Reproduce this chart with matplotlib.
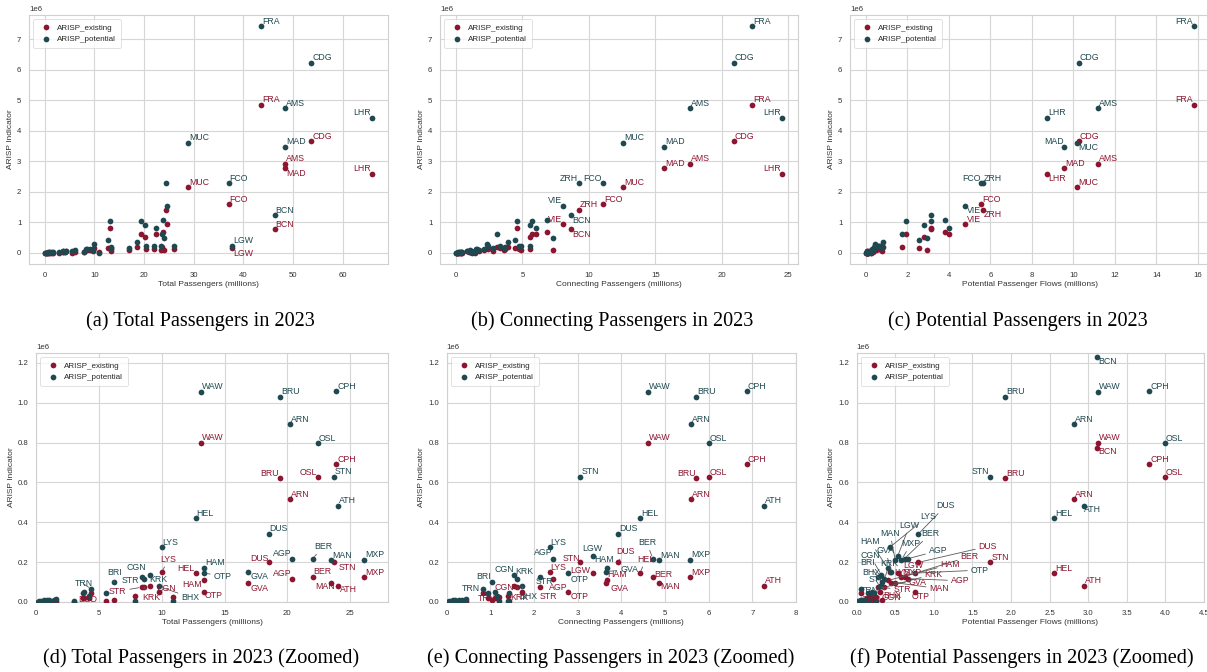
import numpy as np
import matplotlib.pyplot as plt
import seaborn as sns

# airport traffic (millions of passengers) and ARISP indicator values
airports = ['FRA', 'CDG', 'AMS', 'LHR', 'MUC', 'MAD', 'FCO', 'ZRH', 'VIE', 'BCN', 'LGW',
            'WAW', 'BRU', 'CPH', 'ARN', 'OSL', 'STN', 'ATH', 'HEL', 'DUS', 'LYS', 'AGP',
            'BER', 'MAN', 'MXP', 'HAM', 'GVA', 'OTP', 'CGN', 'STR', 'KRK', 'BRI', 'BHX',
            'TRN', 'BOD', 'BRE', 'DRS', 'LEJ', 'NUE', 'SCN', 'DTM', 'SZG', 'FMO', 'INN',
            'GRZ', 'PAD', 'LNZ', 'KLU', 'ERF']
total_pax = [43.5, 53.6, 48.3, 65.8, 28.9, 48.4, 37.0, 24.4, 24.7, 46.3, 37.7,
             13.1, 19.4, 23.9, 20.2, 22.4, 23.7, 24.0, 12.7, 18.5, 10.0, 20.4,
             22.0, 23.5, 26.1, 13.4, 16.9, 13.4, 9.1, 8.4, 8.6, 6.2, 9.8,
             4.4, 3.7, 3.8, 4.2, 5.6, 7.9, 10.9, 3.0, 1.6, 1.4, 1.0,
             0.9, 0.6, 0.4, 0.2, 0.15]
connecting_pax = [22.3, 20.9, 17.6, 24.5, 12.6, 15.65, 11.05, 9.22, 8.05, 8.65, 3.34,
                  4.60, 5.72, 6.87, 5.60, 6.01, 3.06, 7.27, 4.43, 3.92, 2.36, 2.44,
                  4.72, 4.87, 5.57, 3.66, 3.65, 2.77, 1.53, 2.13, 1.62, 1.03, 1.72,
                  0.82, 0.95, 1.10, 1.15, 1.42, 1.40, 1.20, 0.40, 0.45, 0.35, 0.20,
                  0.28, 0.15, 0.10, 0.05, 0.03]
potential_flows = [15.8, 10.25, 11.2, 8.75, 10.2, 9.57, 5.57, 5.65, 4.80, 3.12, 0.53,
                   3.13, 1.92, 3.79, 2.81, 3.99, 1.73, 2.95, 2.56, 0.80, 0.43, 0.66,
                   0.62, 0.50, 0.58, 0.40, 0.45, 0.75, 0.32, 0.28, 0.36, 0.33, 0.30,
                   0.05, 0.15, 0.20, 0.18, 0.22, 0.16, 0.25, 0.07, 0.12, 0.10, 0.08,
                   0.06, 0.05, 0.03, 0.02, 0.04]
arisp_existing = [4.85e6, 3.65e6, 2.92e6, 2.59e6, 2.15e6, 2.77e6, 1.59e6, 1.40e6, 0.94e6, 0.774e6, 0.145e6,
                  0.800e6, 0.620e6, 0.692e6, 0.516e6, 0.626e6, 0.199e6, 0.082e6, 0.145e6, 0.199e6, 0.150e6, 0.117e6,
                  0.128e6, 0.097e6, 0.125e6, 0.108e6, 0.095e6, 0.051e6, 0.078e6, 0.074e6, 0.074e6, 0.010e6, 0.048e6,
                  0.044e6, 0.018e6, 0.020e6, 0.018e6, 0.005e6, 0.032e6, 0.027e6, 0.002e6, 0.006e6, 0.004e6, 0.005e6,
                  0.004e6, 0.003e6, 0.002e6, 0.001e6, 0.001e6]
arisp_potential = [7.42e6, 6.23e6, 4.73e6, 4.43e6, 3.60e6, 3.48e6, 2.27e6, 2.27e6, 1.54e6, 1.23e6, 0.229e6,
                   1.055e6, 1.030e6, 1.057e6, 0.893e6, 0.797e6, 0.629e6, 0.483e6, 0.421e6, 0.342e6, 0.275e6, 0.217e6,
                   0.218e6, 0.209e6, 0.212e6, 0.171e6, 0.153e6, 0.145e6, 0.136e6, 0.127e6, 0.115e6, 0.098e6, 0.078e6,
                   0.066e6, 0.045e6, 0.052e6, 0.030e6, 0.044e6, 0.007e6, 0.005e6, 0.007e6, 0.014e6, 0.011e6, 0.012e6,
                   0.010e6, 0.008e6, 0.006e6, 0.003e6, 0.002e6]

hub_labels_total = ['FRA', 'CDG', 'AMS', 'LHR', 'MUC', 'MAD', 'FCO', 'BCN', 'LGW']
hub_labels_connecting = ['FRA', 'CDG', 'AMS', 'LHR', 'MUC', 'MAD', 'FCO', 'ZRH', 'VIE', 'BCN']
hub_labels_potential = ['FRA', 'CDG', 'AMS', 'LHR', 'MAD', 'MUC', 'FCO', 'ZRH', 'VIE']
zoom_labels = ['BCN', 'LGW', 'WAW', 'BRU', 'CPH', 'ARN', 'OSL', 'STN', 'ATH', 'HEL', 'DUS',
               'LYS', 'AGP', 'BER', 'MAN', 'MXP', 'HAM', 'GVA', 'OTP', 'CGN', 'STR', 'KRK',
               'BRI', 'BHX', 'TRN', 'BOD']
zoom_cap = 1.25e6  # zoomed panels keep airports whose potential stays below this

x_titles = ['Total Passengers (millions)', 'Connecting Passengers (millions)',
            'Potential Passenger Flows (millions)']
captions = ['(a) Total Passengers in 2023', '(b) Connecting Passengers in 2023',
            '(c) Potential Passengers in 2023', '(d) Total Passengers in 2023 (Zoomed)',
            '(e) Connecting Passengers in 2023 (Zoomed)', '(f) Potential Passengers in 2023 (Zoomed)']

RED = '#8c1530'
TEAL = '#1f4850'

# label placement: (dx, dy) in pixels from the point, and text alignment
DEF = (1, 5, 'left')
L = (-1, 5, 'right')
BR = (1, -5, 'left')
SKIP = None

spec_a = {('MAD', 'ex'): BR, ('LHR', 'pot'): L, ('LHR', 'ex'): L, ('LGW', 'ex'): BR}
spec_b = {('LHR', 'pot'): L, ('LHR', 'ex'): L, ('FCO', 'pot'): L, ('ZRH', 'pot'): L,
          ('VIE', 'pot'): L, ('VIE', 'ex'): L, ('BCN', 'pot'): BR, ('BCN', 'ex'): BR}
spec_c = {('FRA', 'pot'): L, ('FRA', 'ex'): L, ('LHR', 'ex'): BR, ('MAD', 'pot'): L,
          ('MUC', 'pot'): BR, ('FCO', 'pot'): L, ('ZRH', 'ex'): BR, ('VIE', 'pot'): BR}
spec_d = {('BRU', 'ex'): L, ('OSL', 'ex'): L, ('STN', 'ex'): (5, -5, 'left'),
          ('ATH', 'ex'): (2, -4, 'left'), ('HEL', 'ex'): L, ('DUS', 'ex'): (0, 4, 'right'),
          ('AGP', 'pot'): L, ('AGP', 'ex'): L, ('BER', 'pot'): (2, 12, 'left'),
          ('MAN', 'ex'): (3, -4, 'right'), ('LYS', 'ex'): (-1, 13, 'left'),
          ('OTP', 'pot'): (9, -3, 'left'), ('OTP', 'ex'): (0, -4, 'left'),
          ('GVA', 'pot'): (2, -5, 'left'), ('GVA', 'ex'): (2, -5, 'left'),
          ('HAM', 'ex'): (-3, -4, 'right'), ('CGN', 'pot'): (-4, 7, 'right'),
          ('CGN', 'ex'): (6, -2, 'left'), ('KRK', 'pot'): (5, 0, 'left'),
          ('KRK', 'ex'): (-2, -10, 'left'), ('STR', 'pot'): (-2, -4, 'right'),
          ('STR', 'ex'): (-15, -4, 'right'), ('BHX', 'pot'): (22, -11, 'left'),
          ('BHX', 'ex'): SKIP, ('BRI', 'pot'): (-7, 10, 'left'), ('BRI', 'ex'): SKIP,
          ('TRN', 'pot'): (-17, 5, 'left'), ('TRN', 'ex'): SKIP,
          ('BOD', 'pot'): SKIP, ('BOD', 'ex'): (-4, -1, 'left')}
spec_e = {('BRU', 'ex'): L, ('AGP', 'pot'): (-1, 6, 'right'), ('LGW', 'pot'): (0, 8, 'center'),
          ('STN', 'ex'): (0, 4, 'right'), ('HAM', 'pot'): (7, 8, 'right'),
          ('DUS', 'ex'): (-2, 11, 'left'), ('GVA', 'pot'): (14, 2, 'left'),
          ('LGW', 'ex'): (-2, 3, 'right'), ('HEL', 'ex'): (-3, 14, 'left'),
          ('HAM', 'ex'): (1, 6, 'left'), ('GVA', 'ex'): (4, -5, 'left'),
          ('BER', 'pot'): (-15, 16, 'left'), ('BER', 'ex'): (1, 2, 'left'),
          ('MAN', 'ex'): (1, -4, 'left'), ('OTP', 'pot'): (3, -6, 'left'),
          ('OTP', 'ex'): (3, -5, 'left'), ('AGP', 'ex'): (-4, -9, 'left'),
          ('STR', 'pot'): (-4, -5, 'left'), ('STR', 'ex'): (0, -9, 'left'),
          ('CGN', 'pot'): (1, 5, 'right'), ('KRK', 'pot'): (-2, 8, 'left'),
          ('BRI', 'pot'): (-1, 6, 'right'), ('TRN', 'pot'): (-3, 0, 'right'),
          ('BHX', 'pot'): (-3, -10, 'left'), ('CGN', 'ex'): (1, -1, 'right'),
          ('KRK', 'ex'): (-7, -10, 'left'), ('TRN', 'ex'): (4, -5, 'center'),
          ('BRI', 'ex'): SKIP, ('BHX', 'ex'): SKIP, ('BOD', 'pot'): SKIP, ('BOD', 'ex'): SKIP}
spec_f = {('BCN', 'pot'): BR, ('BCN', 'ex'): (1, -4, 'left'), ('STN', 'pot'): L,
          ('ATH', 'pot'): (0, -4, 'left'),
          ('DUS', 'pot'): (18, 28, 'left'), ('BER', 'pot'): (17, 25, 'left'),
          ('LYS', 'pot'): (30, 31, 'left'), ('LGW', 'pot'): (2, 31, 'left'),
          ('MAN', 'pot'): (-15, 27, 'left'), ('MXP', 'pot'): (0, 16, 'left'),
          ('AGP', 'pot'): (21, 8, 'left'), ('HAM', 'pot'): (-27, 26, 'left'),
          ('GVA', 'pot'): (-15, 21, 'left'), ('CGN', 'pot'): (-21, 19, 'left'),
          ('KRK', 'pot'): (-4, 16, 'left'), ('BRI', 'pot'): (-22, 20, 'left'),
          ('BHX', 'pot'): (-18, 14, 'left'), ('STR', 'pot'): (-10, -3, 'left'),
          ('TRN', 'pot'): (0, -2, 'left'), ('OTP', 'pot'): (56, 3, 'left'),
          ('DUS', 'ex'): (60, 16, 'left'), ('BER', 'ex'): (56, 20, 'left'),
          ('HAM', 'ex'): (53, 16, 'left'), ('KRK', 'ex'): (40, 13, 'left'),
          ('AGP', 'ex'): (43, -2, 'left'), ('GVA', 'ex'): (17, 1, 'left'),
          ('MAN', 'ex'): (34, -6, 'left'), ('STR', 'ex'): (15, -2, 'left'),
          ('OTP', 'ex'): (-3, -5, 'left'), ('LGW', 'ex'): (6, 8, 'left'),
          ('LYS', 'ex'): (4, 0, 'left'), ('CGN', 'ex'): (0, -11, 'left'),
          ('TRN', 'ex'): (2, -6, 'left'), ('BHX', 'ex'): (3, -3, 'left'),
          ('BRI', 'ex'): SKIP, ('BOD', 'pot'): SKIP, ('BOD', 'ex'): SKIP}

sns.set_style('whitegrid')
plt.rcParams['font.family'] = ['Liberation Sans', 'DejaVu Sans']
plt.rcParams['axes.edgecolor'] = '#d0d0d0'
plt.rcParams['grid.color'] = '#d6d6d6'

W, H = 1207, 672
fig = plt.figure(figsize=(W / 100, H / 100), dpi=100)


def add_panel(left, top, right, bottom):
    return fig.add_axes([left / W, 1 - bottom / H, (right - left) / W, (bottom - top) / H])


def put_label(ax, x, y, code, color, spec):
    dx, dy, ha = spec
    arrow = None
    if np.hypot(dx, dy) > 9:
        arrow = dict(arrowstyle='-', color='#5a5a5a', lw=0.6, shrinkA=0, shrinkB=2)
    ax.annotate(code, (x, y), xytext=(dx, dy), textcoords='offset pixels',
                ha=ha, va='center', color=color, fontsize=6.3,
                arrowprops=arrow, zorder=5)


def draw_panel(ax, idx, xvals, xlabel, names, spec):
    xs = [xvals[i] for i in idx]
    ex = [arisp_existing[i] for i in idx]
    pot = [arisp_potential[i] for i in idx]
    ax.scatter(xs, ex, s=17, color=RED, linewidths=0, label='ARISP_existing', zorder=3)
    ax.scatter(xs, pot, s=17, color=TEAL, linewidths=0, label='ARISP_potential', zorder=3)
    for i in idx:
        code = airports[i]
        if code not in names:
            continue
        for series, yvals, color in (('ex', arisp_existing, RED),
                                     ('pot', arisp_potential, TEAL)):
            s = spec.get((code, series), DEF)
            if s is None:
                continue
            put_label(ax, xvals[i], yvals[i], code, color, s)
    ax.set_xlabel(xlabel, fontsize=6.0, labelpad=1.5, color='#333333')
    ax.set_ylabel('ARISP Indicator', fontsize=6.0, labelpad=2, color='#333333')
    ax.tick_params(labelsize=5.6, pad=2, colors='#333333')
    ax.yaxis.get_offset_text().set_fontsize(5.6)
    ax.grid(True, lw=0.8)
    leg = ax.legend(loc='upper left', fontsize=5.8, frameon=True, borderpad=0.6,
                    handletextpad=0.4, markerscale=1.0, labelspacing=0.5)
    leg.get_frame().set_linewidth(0.5)


xdata = [total_pax, connecting_pax, potential_flows]
all_idx = list(range(len(airports)))
zoom_idx = [i for i in all_idx if arisp_potential[i] < zoom_cap]

ax_a = add_panel(29, 15, 388, 264)
ax_b = add_panel(440, 15, 798, 264)
ax_c = add_panel(850, 15, 1210, 264)
draw_panel(ax_a, all_idx, xdata[0], x_titles[0], hub_labels_total, spec_a)
draw_panel(ax_b, all_idx, xdata[1], x_titles[1], hub_labels_connecting, spec_b)
draw_panel(ax_c, all_idx, xdata[2], x_titles[2], hub_labels_potential, spec_c)

ax_d = add_panel(36, 353, 388, 602)
ax_e = add_panel(446.7, 353, 796, 602)
ax_f = add_panel(856.7, 353, 1204, 602)
zoom_limits = [(0, 28), (0, 8), (0, 4.5)]
for ax, xv, xt, spec, lim in zip((ax_d, ax_e, ax_f), xdata, x_titles,
                                 (spec_d, spec_e, spec_f), zoom_limits):
    ax.set_xlim(*lim)
    ax.set_ylim(0, zoom_cap)
    names = zoom_labels if ax is ax_d else [c for c in zoom_labels if c != 'BOD']
    draw_panel(ax, zoom_idx, xv, xt, names, spec)

# sub-figure captions
cap_pos = [(200, 321), (612, 321), (1018, 321), (201, 658), (611, 658), (1022, 658)]
for (cx, cy), text in zip(cap_pos, captions):
    fig.text(cx / W, 1 - cy / H, text, ha='center', va='center',
             family='Liberation Serif', fontsize=14.6, color='black')

fig.savefig('out.png', dpi=100)
